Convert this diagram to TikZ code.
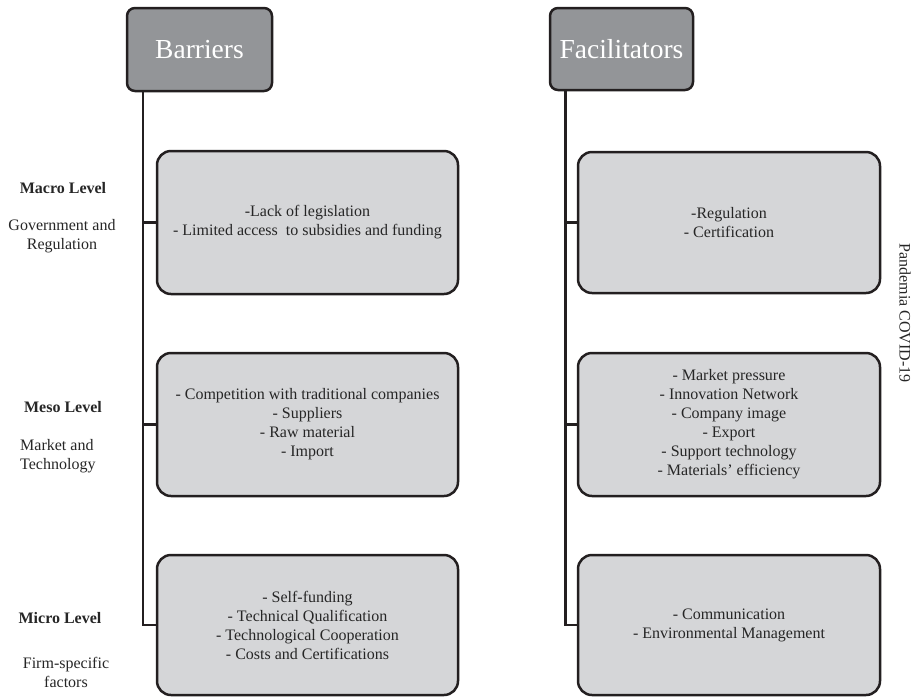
\documentclass[tikz,border=0pt]{standalone}
\usepackage{fontspec}
\setmainfont{Liberation Serif}
\definecolor{hdrfill}{HTML}{939598}
\definecolor{boxfill}{HTML}{D5D6D8}
\definecolor{edge}{HTML}{231F20}
\begin{document}
\begin{tikzpicture}[x=1pt,y=-1pt,
  hdr/.style={draw=edge, line width=2.5pt, fill=hdrfill, rounded corners=8pt,
    text=white, font=\fontsize{27.5}{30}\selectfont, inner sep=0pt},
  itembox/.style={draw=edge, line width=2.5pt, fill=boxfill, rounded corners=14pt,
    minimum width=301pt, align=center, text=black!85,
    font=\fontsize{16}{19}\selectfont, inner sep=0pt},
  spine/.style={draw=edge, line width=2.5pt},
  lvl/.style={font=\bfseries\fontsize{16}{19}\selectfont, text=black!85, inner sep=0pt},
  lvlsub/.style={font=\fontsize{16}{19}\selectfont, text=black!85, inner sep=0pt}
]
\useasboundingbox (0,0) rectangle (916,697);
% headers
\node[hdr, minimum width=145pt, minimum height=83pt] (bh) at (199.5,49.5) {Barriers};
\node[hdr, minimum width=143pt, minimum height=82pt] (fh) at (621.5,49) {Facilitators};
% barrier boxes
\node[itembox, minimum height=143pt] (b1) at (307.5,222.5)
  {-Lack of legislation\\- Limited access\ \ to subsidies and funding};
\node[itembox, minimum height=143pt] (b2) at (307.5,424.5)
  {- Competition with traditional companies\\- Suppliers\\- Raw material\\- Import};
\node[itembox, minimum height=140pt] (b3) at (307.5,625)
  {- Self-funding\\- Technical Qualification\\- Technological Cooperation\\- Costs and Certifications};
% facilitator boxes
\node[itembox, minimum width=302pt, minimum height=141pt] (f1) at (729,222.5)
  {-Regulation\\- Certification};
\node[itembox, minimum width=302pt, minimum height=143pt] (f2) at (729,424.5)
  {- Market pressure\\- Innovation Network\\- Company image\\- Export\\- Support technology\\- Materials’ efficiency};
\node[itembox, minimum width=302pt, minimum height=140pt] (f3) at (729,625)
  {- Communication\\- Environmental Management};
% spines
\coordinate (bx) at (143,0);
\coordinate (fx) at (565.5,0);
\draw[spine] (bx |- bh.south) |- (b3.west);
\draw[spine] (bx |- b1.west) -- (b1.west);
\draw[spine] (bx |- b2.west) -- (b2.west);
\draw[spine] (fx |- fh.south) |- (f3.west);
\draw[spine] (fx |- f1.west) -- (f1.west);
\draw[spine] (fx |- f2.west) -- (f2.west);
% level labels
\node[lvl] (macro) at (63,188) {Macro Level};
\node[lvlsub, align=center] (macrosub) at (62,236) {Government and\\Regulation};
\node[lvl] (meso) at (63,407) {Meso Level};
\node[lvlsub, align=left, anchor=west] (mesosub) at (20,456) {Market and\\Technology};
\node[lvl] (micro) at (60,618) {Micro Level};
\node[lvlsub, align=center] (microsub) at (66,672) {Firm-specific\\factors};
% side label
\node[lvlsub, rotate=-90] (pand) at (905,313) {Pandemia COVID-19};
\end{tikzpicture}
\end{document}
